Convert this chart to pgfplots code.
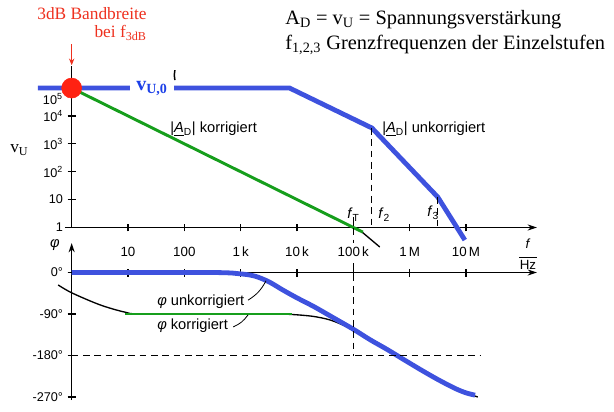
\documentclass[border=0pt]{standalone}
\usepackage{pgfplots}
\pgfplotsset{compat=1.18}
\usetikzlibrary{arrows.meta}
\usepackage{fontspec}
\setmainfont{Liberation Serif}
\newfontfamily\hv{Liberation Sans}

\definecolor{ublue}{RGB}{62,82,222}
\definecolor{vblue}{RGB}{28,64,232}
\definecolor{kgreen}{RGB}{22,158,28}
\definecolor{dotred}{RGB}{255,34,18}
\definecolor{txtred}{RGB}{238,48,30}

\tikzset{refline/.style={black, line width=0.8pt, dash pattern=on 5pt off 3.5pt}}

\begin{document}
\begin{tikzpicture}
\useasboundingbox (0,0) rectangle (460.5pt,308.25pt);

% Betragsgang
\begin{axis}[at={(53.75pt,137.625pt)}, anchor=south west,
  scale only axis, width=349pt, height=121.1pt,
  xmode=log, ymode=log, xmin=1, xmax=1.824e8, ymin=1, ymax=6.17e5,
  enlargelimits=false, clip=false,
  xminorticks=false, yminorticks=false,
  tick align=center, major tick length=6pt,
  tick style={black, line width=0.9pt},
  axis x line=bottom, axis y line=left,
  x axis line style={line width=1pt, -{Stealth[length=7pt,width=4.5pt]}},
  y axis line style={line width=1pt, -},
  xtick={10,100,1000,10000,100000,1000000,10000000},
  xticklabels={10,100,1\,k,10\,k,100\,k,1\,M,10\,M},
  xticklabel style={font=\hv\fontsize{10}{12}\selectfont, yshift=-8pt},
  ytick={1,10,100,1000,10000},
  yticklabels={1,10,10\textsuperscript{2},10\textsuperscript{3},10\textsuperscript{4}},
  yticklabel style={font=\hv\fontsize{9.5}{11}\selectfont},
]
  % |A_D| unkorrigiert
  \addplot[ublue, line width=3.6pt] coordinates
    {(0.25,1e5) (7400,1e5) (2.14e5,3700) (3.16e6,12.3) (9.55e6,0.355)};
  % Fortsetzung der korrigierten Kennlinie
  \addplot[black, line width=1pt] coordinates {(1.4e5,0.71) (2.95e5,0.2)};
  % |A_D| korrigiert
  \addplot[kgreen, line width=2.2pt] coordinates {(1,1e5) (1.48e5,0.68)};
  % 3dB-Punkt
  \addplot[only marks, mark=*, mark size=7.5pt, color=dotred] coordinates {(1,1e5)};

  \draw[line width=1pt] (axis cs:0.76,1) -- (axis cs:1,1);
  \draw[refline] (axis cs:2.14e5,3700) -- (axis cs:2.14e5,1);
  \draw[refline] (axis cs:3.16e6,12.3) -- (axis cs:3.16e6,1);
  \draw[refline] (axis cs:1e5,2.38) -- (axis cs:1e5,0.28);
  \draw[txtred, line width=0.8pt, -{Stealth[length=5pt,width=4pt]}]
    (axis cs:1,3.8e6) -- (axis cs:1,6.6e5);
  \draw[line width=1.1pt] (axis cs:68,4.4e5) to[bend right=12] (axis cs:68,1.94e5);
  \node[fill=white, text=vblue, inner xsep=5pt, inner ysep=1pt,
        font=\fontsize{15}{15}\selectfont\bfseries]
    at (axis cs:26.7,1e5) {v\textsubscript{U,0}};
  \node[anchor=east, inner sep=0, font=\hv\fontsize{9.5}{11}\selectfont]
    at (axis cs:0.7,4.2e4) {10\textsuperscript{5}};
\end{axis}

% Phasengang
\begin{axis}[at={(53.75pt,8.25pt)}, anchor=south west,
  scale only axis, width=349pt, height=117.75pt,
  xmode=log, xmin=1, xmax=1.824e8, ymin=-276.5, ymax=64,
  enlargelimits=false, clip=false,
  xminorticks=false,
  tick align=center, major tick length=6pt,
  tick style={black, line width=0.9pt},
  axis x line=middle, axis y line=left,
  hide obscured x ticks=false, hide obscured y ticks=false,
  x axis line style={line width=1pt, -{Stealth[length=7pt,width=4.5pt]}},
  y axis line style={line width=1pt, -{Stealth[length=7pt,width=4.5pt]}},
  xtick={10,100,1000,10000,100000,1000000,10000000},
  xticklabels={},
  ytick={-270,-180,-90,0},
  yticklabels={-270°,-180°,-90°,0°},
  yticklabel style={font=\hv\fontsize{9.5}{11}\selectfont},
]
  % phi korrigiert
  \addplot[black, line width=1pt, smooth] coordinates
    {(0.575,-27) (1,-44) (3.16,-70) (8.9,-86) (20,-90) (3160,-90) (7940,-91)
     (19000,-95) (38900,-103) (77600,-118) (1.26e5,-133) (2e5,-147) (4e5,-167)
     (7.9e5,-189) (1.58e6,-211) (3.16e6,-232) (6.3e6,-251) (1e7,-261) (1.62e7,-270)};
  \addplot[kgreen, line width=2.2pt] coordinates {(8.9,-90) (8130,-90)};
  % phi unkorrigiert
  \addplot[ublue, line width=3.6pt, smooth] coordinates
    {(1,0) (300,0) (1000,-3) (1800,-8) (3160,-20) (5620,-38)
     (1e4,-55) (2e4,-74) (4e4,-95) (1e5,-123) (2e5,-146) (4e5,-167)
     (7.9e5,-189) (1.58e6,-211) (3.16e6,-232) (6.3e6,-251) (1e7,-261) (1.45e7,-266)};

  \draw[line width=1pt] (axis cs:0.85,0) -- (axis cs:1,0);
  \draw[refline] (axis cs:1,-180) -- (axis cs:1.78e7,-180);
  \draw[refline] (axis cs:1e5,20) -- (axis cs:1e5,-180);
  \draw[line width=0.6pt] (axis cs:1350,-60) to[bend right=15] (axis cs:2820,-18);
  \draw[line width=0.6pt] (axis cs:740,-118) to[bend right=15] (axis cs:1350,-92);
\end{axis}

% Beschriftungen
\begin{scope}[yshift=308.25pt, x=0.75pt, y=-0.75pt]
  \node[txtred, inner sep=0, anchor=base, font=\fontsize{13}{15}\selectfont]
    at (92,20) {3dB Bandbreite};
  \node[txtred, inner sep=0, anchor=base east, font=\fontsize{13}{15}\selectfont]
    at (147,38) {bei f\textsubscript{3dB}};
  \node[inner sep=0, anchor=base west, font=\fontsize{15.3}{18}\selectfont]
    at (285,25) {A\textsubscript{D} = v\textsubscript{U} = Spannungsverstärkung};
  \node[inner sep=0, anchor=base west, font=\fontsize{15.3}{18}\selectfont]
    at (285,50) {f\textsubscript{1,2,3} Grenzfrequenzen der Einzelstufen};
  \node[inner sep=0, anchor=base west, font=\fontsize{13}{15}\selectfont]
    at (10,153) {v\textsubscript{U}};

  \begin{scope}[every node/.style={inner sep=0, font=\hv\fontsize{11}{13}\selectfont}]
    \node[anchor=base west] at (170,133) {|\underline{\textit{A}}\textsubscript{D}| korrigiert};
    \node[anchor=base west] at (382,133) {|\underline{\textit{A}}\textsubscript{D}| unkorrigiert};
    \node[anchor=base west] at (347,219) {\textit{f}\textsubscript{T}};
    \node[anchor=base west] at (378,219) {\textit{f}\textsubscript{2}};
    \node[anchor=base west] at (427,217) {\textit{f}\textsubscript{3}};
    \node at (55,245) {\textit{φ}};
    \node[anchor=base west] at (157,305) {\textit{φ} unkorrigiert};
    \node[anchor=base west] at (157,329) {\textit{φ} korrigiert};
    \node[align=center, font=\hv\fontsize{10}{10}\selectfont] at (528,254)
      {\textit{f}\\[-3pt]\rule{13pt}{0.6pt}\\[-1pt]Hz};
  \end{scope}
\end{scope}
\end{tikzpicture}
\end{document}
